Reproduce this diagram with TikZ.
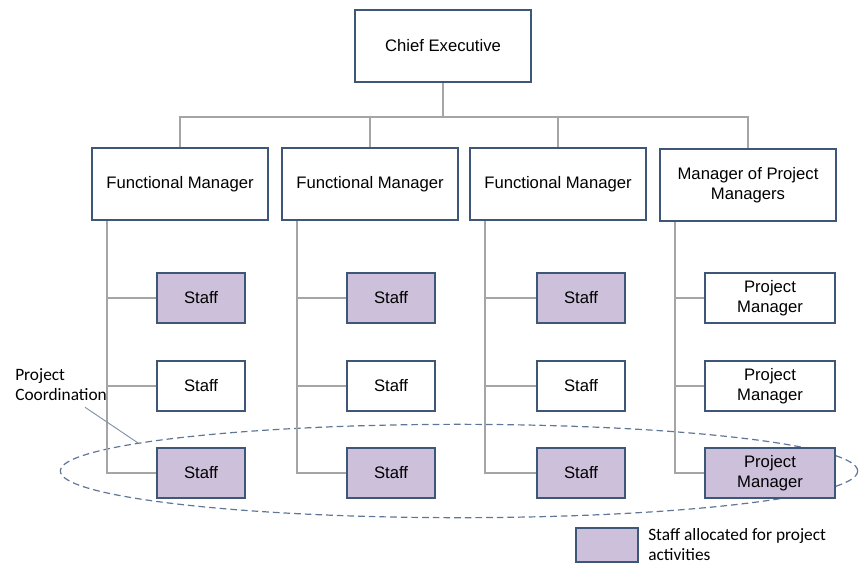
\documentclass[tikz,border=0pt]{standalone}
\usepackage{fontspec}
\setmainfont{Liberation Sans}
\newfontfamily\notefont{Carlito}
\usetikzlibrary{shapes.geometric, positioning, backgrounds}
\definecolor{boxborder}{RGB}{62,86,120}
\definecolor{staffpurple}{RGB}{204,192,218}
\definecolor{linkgray}{RGB}{165,165,165}
\definecolor{coordblue}{RGB}{96,118,150}

\begin{document}
\begin{tikzpicture}[
        x=0.75pt, y=-0.75pt,
        every node/.style={font=\fontsize{12.5}{15}\selectfont},
        orgbox/.style={rectangle, draw=boxborder, line width=1.6pt, fill=white, minimum width=132pt, minimum height=54pt, inner sep=0pt, align=center},
        staffbox/.style={rectangle, draw=boxborder, line width=1.6pt, fill=white, minimum width=66pt, minimum height=38pt, inner sep=0pt, align=center},
        pmbox/.style={staffbox, minimum width=97pt},
        project/.style={fill=staffpurple},
        link/.style={draw=linkgray, line width=0.9pt},
        note/.style={font=\notefont\fontsize{13}{15}\selectfont, align=left, inner sep=0pt}
    ]
        \useasboundingbox (0,0) rectangle (859,564);

        \node[orgbox] (chief) at (443,46) {Chief Executive};
        \node[orgbox] (fm1) at (180,184) {Functional Manager};
        \node[orgbox] (fm2) at (370,184) {Functional Manager};
        \node[orgbox] (fm3) at (558,184) {Functional Manager};
        \node[orgbox] (mpm) at (748,185) {Manager of Project\\Managers};

        \node[staffbox, project] (s11) at (201,298) {Staff};
        \node[staffbox] (s12) at (201,386) {Staff};
        \node[staffbox, project] (s13) at (201,473) {Staff};
        \node[staffbox, project] (s21) at (391,298) {Staff};
        \node[staffbox] (s22) at (391,386) {Staff};
        \node[staffbox, project] (s23) at (391,473) {Staff};
        \node[staffbox, project] (s31) at (581,298) {Staff};
        \node[staffbox] (s32) at (581,386) {Staff};
        \node[staffbox, project] (s33) at (581,473) {Staff};
        \node[pmbox] (pm1) at (770,298) {Project\\Manager};
        \node[pmbox] (pm2) at (770,386) {Project\\Manager};
        \node[pmbox, project] (pm3) at (770,473) {Project\\Manager};

        % top level
        \coordinate (bus) at (443,117);
        \draw[link] (chief) -- (bus);
        \draw[link] (fm1.north) |- (bus) -| (mpm.north);
        \draw[link] (fm2.north) -- (fm2.north |- bus);
        \draw[link] (fm3.north) -- (fm3.north |- bus);

        % staff under each manager
        \draw[link] (s11.west) -| ([xshift=12pt]fm1.south west);
        \draw[link] (s12.west) -| ([xshift=12pt]fm1.south west);
        \draw[link] (s13.west) -| ([xshift=12pt]fm1.south west);
        \draw[link] (s21.west) -| ([xshift=12pt]fm2.south west);
        \draw[link] (s22.west) -| ([xshift=12pt]fm2.south west);
        \draw[link] (s23.west) -| ([xshift=12pt]fm2.south west);
        \draw[link] (s31.west) -| ([xshift=12pt]fm3.south west);
        \draw[link] (s32.west) -| ([xshift=12pt]fm3.south west);
        \draw[link] (s33.west) -| ([xshift=12pt]fm3.south west);
        \draw[link] (pm1.west) -| ([xshift=12pt]mpm.south west);
        \draw[link] (pm2.west) -| ([xshift=12pt]mpm.south west);
        \draw[link] (pm3.west) -| ([xshift=12pt]mpm.south west);

        % project coordination
        \begin{scope}[on background layer]
            \node[ellipse, draw=coordblue, dash pattern=on 5pt off 3pt, line width=0.9pt, minimum width=598pt, minimum height=70pt, inner sep=0pt] (coord) at (459,471) {};
        \end{scope}
        \node[note, anchor=north west] (pclabel) at (15,368) {Project\\Coordination};
        \draw[coordblue!80, line width=0.7pt] ([xshift=18pt,yshift=-5pt]pclabel.south) -- (coord.175);

        % legend
        \node[rectangle, draw=boxborder, line width=1.6pt, fill=staffpurple, minimum width=46pt, minimum height=26pt, inner sep=0pt] (legbox) at (607,545) {};
        \node[note, anchor=west] (legtext) at (648,545) {Staff allocated for project\\activities};
    \end{tikzpicture}
\end{document}
